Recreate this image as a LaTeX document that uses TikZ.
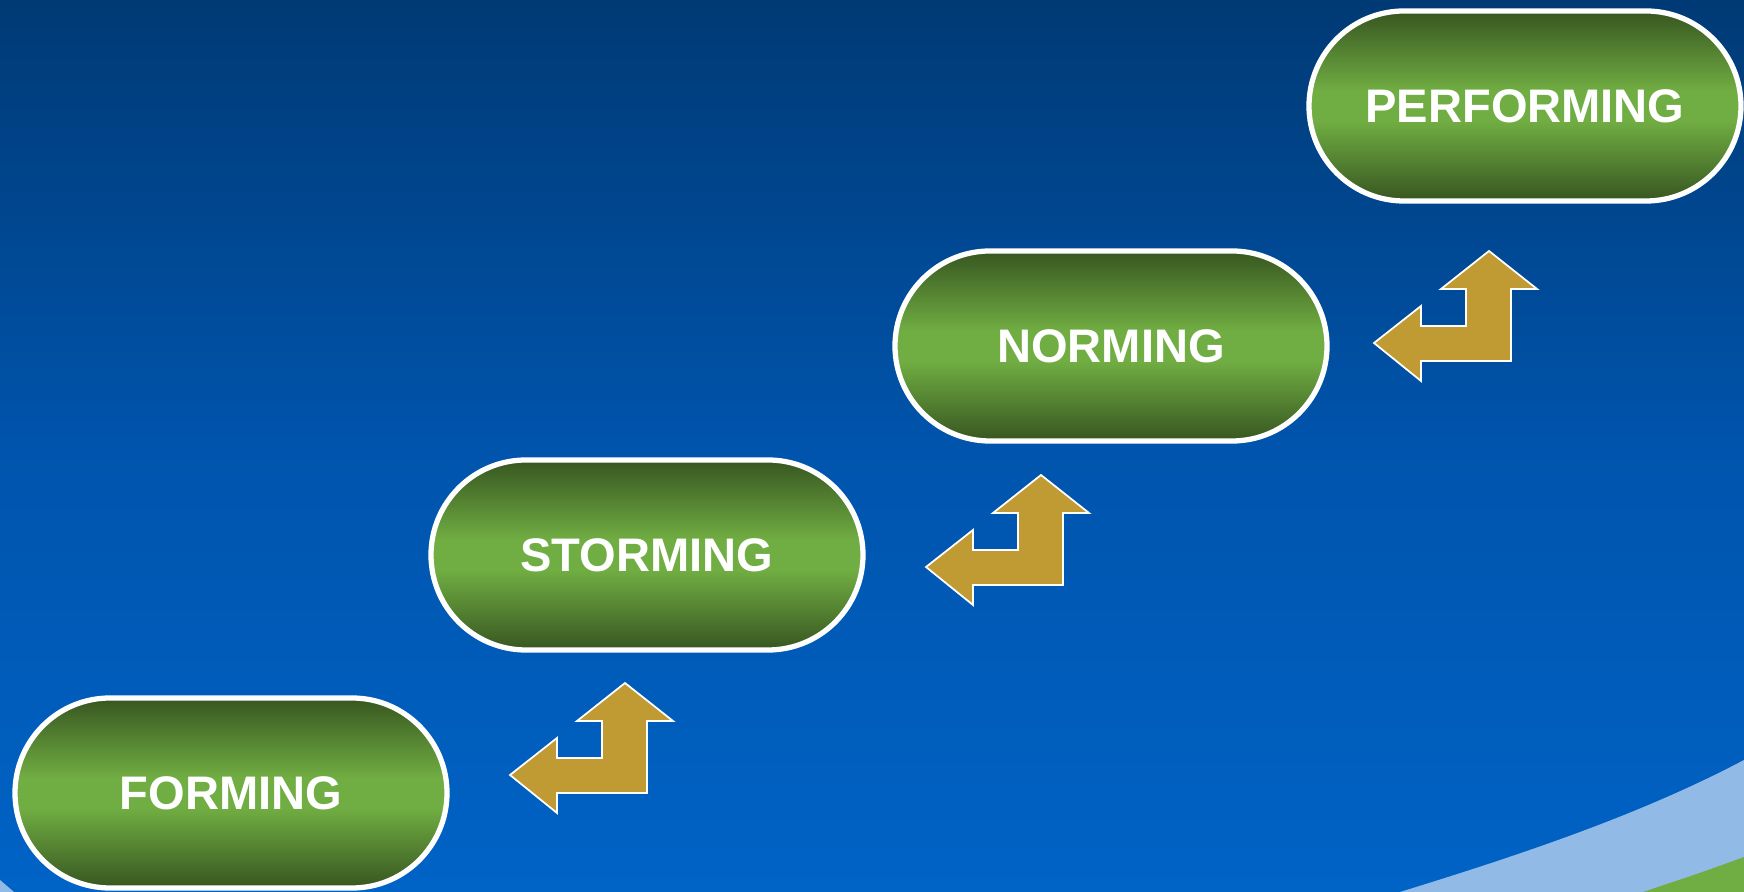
\documentclass[tikz,border=0pt]{standalone}
\usepackage{fontspec}
\setmainfont{Liberation Sans}
\usetikzlibrary{positioning}

\definecolor{bgtop}{HTML}{003A75}
\definecolor{bgmid}{HTML}{0054AC}
\definecolor{bgbot}{HTML}{0063C6}
\definecolor{swoosh}{HTML}{92BAE6}
\definecolor{grass}{HTML}{70AD42}
\definecolor{pilldark}{HTML}{3A5A22}
\definecolor{pilllight}{HTML}{70AD42}
\definecolor{gold}{HTML}{C09A32}

\pgfdeclareverticalshading{pillshade}{100bp}{color(0bp)=(pilldark); color(26bp)=(pilldark);
  color(46bp)=(pilllight); color(54bp)=(pilllight); color(74bp)=(pilldark); color(100bp)=(pilldark)}

\tikzset{
  stage/.style={draw=white, line width=1.5pt, rounded corners=9.5mm,
    minimum width=43.2mm, minimum height=19mm, shading=pillshade,
    text=white, font=\bfseries\fontsize{13.4}{16}\selectfont},
  turn/.pic={
    \filldraw[fill=gold, draw=white, line width=0.5pt]
      (0,0) -- (48,38) -- (22,38) -- (22,110) -- (-68,110) -- (-68,130)
      -- (-115,92) -- (-68,55) -- (-68,75) -- (-23,75) -- (-23,38)
      -- (-48,38) -- cycle;
  }
}

\begin{document}
\begin{tikzpicture}[x=0.1mm, y=-0.1mm]
  \useasboundingbox (0,0) rectangle (1744,892);
  \fill[top color=bgtop, bottom color=bgbot, middle color=bgmid] (0,0) rectangle (1744,892);
  \fill[swoosh] (1400,892) .. controls (1520,855) and (1640,815) .. (1744,760) -- (1744,892) -- cycle;
  \fill[grass] (1643,892) .. controls (1700,873) .. (1744,857) -- (1744,892) -- cycle;
  \fill[swoosh] (0,880) -- (14,892) -- (0,892) -- cycle;

  \node[stage] (forming) at (231,793) {FORMING};
  \node[stage] (storming) at (647,555) {STORMING};
  \node[stage] (norming) at (1111,346) {NORMING};
  \node[stage] (performing) at (1525,106) {PERFORMING};

  \pic at (625,683) {turn};
  \pic at (1041,475) {turn};
  \pic at (1489,251) {turn};
\end{tikzpicture}
\end{document}
